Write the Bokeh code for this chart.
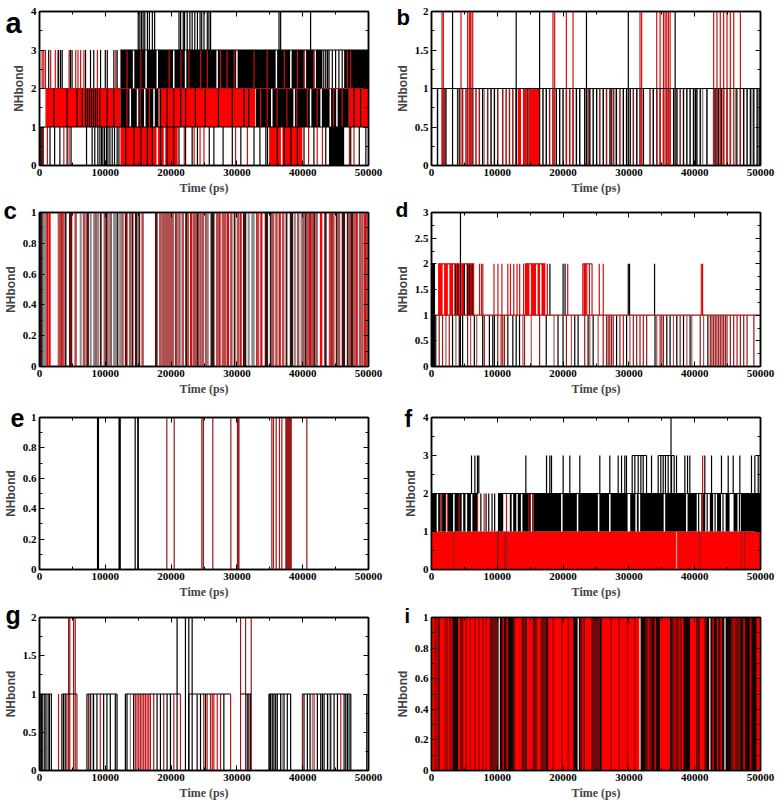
from bokeh.plotting import figure
from bokeh.models import (Range1d, SingleIntervalTicker, LinearAxis, CustomJSTickFormatter,
                          CustomLabelingPolicy, ColumnDataSource)
from bokeh.core.properties import value, field
from bokeh.layouts import column, row
from bokeh.embed import file_html
from bokeh.resources import INLINE

# ---------------- data (time in ps, NHbond levels) ----------------
# Panel a (0..4)
A_RED_BLK_01 = [(12300, 21000), (34900, 39950)]
A_BLK_BLK_01 = [(100, 650), (44000, 46300)]
A_RED_BLK_12 = [(900, 12300), (18200, 32800), (47000, 50000)]
A_BLK_BLK_12 = [(12300, 18100), (32900, 47000)]
A_BLK_BLK_23 = [(12300, 43000), (46300, 50000)]
A_WHITE_01 = [17900, 19000, 36800]
A_WHITE_12 = [13800, 14900, 16000, 17400, 35300, 38700, 41200, 42800, 44200, 45200]
A_WHITE_23 = [14300, 16200, 17900, 20400, 22200, 27000, 30000, 36000, 38200, 40400, 41900]
A_RED_01 = [400, 1200, 3700, 4500, 22000, 23500, 24400, 25000, 29800, 31600, 40900, 42200, 43000, 47100, 47800]
A_BLK_01 = [1600, 2300, 3100, 4200, 4800, 7150, 8000, 8400, 8870, 9180, 9430, 9630, 9890, 10190, 10400,
            10700, 11050, 11400, 11800, 12070, 13100, 14350, 15400, 16400, 17150, 18400, 19400, 20400,
            21200, 22200, 23200, 24000, 25800, 26500, 27900, 29300, 30600, 32600, 33500, 34400, 34650,
            36150, 37200, 38200, 39200, 40200, 41700, 43500, 47300, 48600, 49600]
A_RED_12 = [13300, 15300, 16700, 33600, 34600, 36100, 37600, 39100, 40700, 42200, 44700, 46000]
A_BLK_12 = [2200, 4200, 5700, 6500, 7000, 7300, 7600, 7900, 8200, 8500, 8800, 9200, 10300, 11300,
            18400, 19400, 20400, 21450, 22200, 23700, 25200, 27200, 29300, 31100, 31800, 47800, 48800]
A_RED_23 = [400, 650, 900, 1700, 2400, 2800, 4500, 5500, 5850, 6250, 6750, 8800, 11600,
            13300, 15400, 19700, 21500, 22700, 24500, 25500, 27500, 28500, 29600,
            32600, 34600, 37200, 39200, 40200, 41700, 43800, 46800, 47300]
A_BLK_23 = [1400, 2900, 3200, 3450, 4700, 4950, 7000, 7750, 8250, 9280, 10000, 10300, 11300, 11800,
            43200, 43500, 43750, 44000, 44500, 45000, 45500, 46000]
A_BLK_34 = [15000, 15250, 15500, 15750, 16000, 16400, 16700, 17150, 17500, 21200, 21450, 21850, 22050,
            22450, 22850, 23200, 23600, 24000, 24400, 24650, 25000, 25500, 25750, 26000, 36400, 36650, 41200]
A_HL1 = [(0, 50000)]
A_HL2 = [(0, 50000)]
A_HL3 = [(12300, 50000)]

# Panel b (0..2)
B_RED_BLK_01 = [(13100, 13600), (13900, 14500), (14800, 16500)]
B_RED_01 = [1680, 1930, 4730, 5240, 6000, 6760, 7270, 8540, 10070, 10830, 11340, 11850, 12360, 17950,
            18460, 20500, 21010, 21510, 23800, 25580, 26600, 27100, 27620, 28640, 30670, 31690, 33210,
            34740, 35250, 36260, 37790, 42880, 43380, 43890, 44400, 44910, 45420]
B_BLK_01 = [915, 2190, 3970, 4220, 5490, 6260, 7780, 9050, 9560, 12870, 14650, 16940, 17440, 18970,
            19480, 19990, 22020, 22530, 23290, 24060, 24570, 25100, 26100, 27300, 28100, 29150, 29650,
            30200, 31200, 32200, 33700, 34230, 35750, 36800, 37300, 38300, 38810, 39300, 39820, 40100,
            40330, 40840, 41860, 43100, 43600, 44100, 46400, 46940, 47450, 47960, 48470, 48980, 49490, 49800]
B_GRAY_01 = [4100, 8000, 27900, 41200, 46200, 48700]
B_RED_02 = [1600, 1800, 4480, 5490, 5750, 5900, 6000, 6260, 18460, 18720, 20500, 21510, 31690, 31940,
            34230, 34740, 35250, 35500, 35750, 36000, 36260, 42880, 43380, 43890, 44400, 44910, 45420,
            45930, 46940]
B_BLK_02 = [3200, 12870, 16430, 23550, 29910, 37030]
B_HL1 = [(0, 50000)]
B_HL2 = [(1600, 1800), (5490, 6260), (18460, 18720), (31690, 31940), (34230, 36260), (42880, 45930)]

# Panel c (0..1)
C_BLK_BLK = [(0, 500), (14500, 14900), (25990, 26600), (30920, 31430), (34230, 34740), (38040, 38550),
             (43280, 43640), (45930, 46440)]
C_DRED_BLK = [(4480, 4980), (12970, 13380), (17550, 17950), (47300, 47700)]
C_RED_BLK = [(1400, 1700), (32900, 33050), (42620, 42980)]
C_GRAY_BLK = [(500, 1070), (32190, 32700)]
C_BROWN = [2950, 3610, 5490, 6760, 7170, 8540, 9920, 10830, 12610, 13780, 15670, 18360, 18720, 18970,
           19230, 19480, 19730, 19990, 20240, 21260, 21770, 22530, 23450, 23800, 24460, 24820, 25330,
           27010, 27870, 28230, 29150, 30160, 33210, 35500, 36010, 37030, 39310, 40080, 40740, 41450,
           42110, 44150, 44660, 45520, 47200, 47860, 48720, 49080, 49740, 49900]
C_RED = [1200, 3310, 20750, 23040, 27360, 28640, 30570, 33720, 36510, 41100, 44400, 48210, 49490]
C_BLK = [3970, 7370, 9310, 10220, 11850, 14140, 15160, 22280, 24060, 29650, 35140, 37540, 40430, 41760,
         45160, 46840, 47450]
C_GRAY = [6260, 7780, 8290, 8900, 10580, 11340, 11600, 12260, 21010, 25580, 31790, 38810, 39820]

# Panel d (0..3)
D_RED_BLK_12 = [(1000, 4300), (4500, 6500), (14200, 17300), (23100, 23500)]
D_WHITE_12 = [1800, 2600, 3400, 5200, 15000, 16000, 16600]
D_BLK_12 = [3600, 4000, 5000, 5500, 5800, 6200, 18000, 20000, 20300, 29900, 30100, 33900]
D_BLK_02 = [150, 300, 450]
D_BLK_03 = [4400]
D_RED_12 = [7300, 7600, 7800, 9500, 10100, 10700, 11600, 12000, 12500, 13000, 13400, 14000, 17600,
            20700, 23000, 23300, 23600, 24000, 24400, 25500, 26100, 41000, 41200]
D_RED_01 = [1170, 1680, 2700, 5490, 8030, 10070, 10580, 10830, 11090, 14140, 16430, 20500, 23290,
            26090, 26600, 26850, 27100, 27360, 27620, 28640, 29150, 30670, 31180, 31690, 32190, 32700,
            34740, 35000, 35250, 37790, 40840, 42370, 42620, 42880, 43130, 43380, 43640, 43890, 44150,
            44400, 44660, 44910, 45420, 45930, 46440, 46940, 47450, 47960, 48990]
D_BLK_01 = [400, 650, 3200, 4220, 4730, 6510, 7780, 8800, 9310, 9560, 11600, 12360, 12870, 13380,
            17440, 19230, 19990, 21770, 22280, 23800, 24570, 28130, 29650, 33970, 35760, 36260, 37280,
            38300, 39300, 42000]
D_GRAY_01 = [2190, 3710, 5950, 6870, 13890, 15160, 18620, 21260, 24060, 25330, 30160, 34230, 36770,
             38810, 39560, 41350]
D_HL1 = [(0, 50000)]
D_HL2 = [(1000, 6500), (14200, 17300), (23000, 24400)]

# Panel e (0..1)
E_BLK_BLK = [(12000, 12360)]
E_BLK = [8820, 8960, 14540, 14950, 15000]
E_RED = [19350, 20470, 24670, 26340, 29080, 35310, 35560, 35970, 36470, 36830, 40630]
E_RED_BLK = [(24800, 25000), (30000, 30400), (37350, 38350)]
E_HL1_RED = [(35310, 35560), (36470, 36830)]

# Panel f (0..4)
F_RED_BLK_01 = [(0, 50000)]
F_DARK_01 = [3400, 10000, 10130, 11150, 11400, 40750, 47100, 47550]
F_LIGHT_01 = [37240]
F_BLK_BLK_12 = [(0, 2200), (2500, 5200), (5400, 7000), (10100, 10900), (11900, 29800), (30200, 40300),
                (41000, 41600), (42300, 42800), (43400, 44000), (44700, 45300), (45900, 46500),
                (47000, 50000)]
F_WHITE_12 = [900, 1500, 2300, 3400, 4700, 5300, 6100, 12300, 13000, 13700, 15200, 19800, 22200, 25400,
              27100, 31100, 31600, 35400, 38800]
F_BLK_12 = [7500, 8300, 8700, 9200, 9600, 40600, 41900, 43100, 44300, 46800]
F_RED_12 = [1500, 2400, 4200, 7000, 8000, 11400, 14800, 15500]
F_BLK_23 = [6080, 6590, 6990, 7190, 14340, 17480, 17980, 18240, 20010, 21020, 22540, 25580, 27100,
            28370, 28880, 29380, 29630, 30500, 30900, 31410, 31820, 32170, 32680, 33440, 34450, 34850,
            35210, 35560, 35970, 36480, 36880, 37240, 38500, 38910, 39260, 41540, 42560, 44070, 45090,
            45850, 46860, 48630, 49140, 49650]
F_BLK_24 = [36400]
F_RED_13 = [41200]
F_HL2 = [(0, 7000), (10100, 50000)]
F_HL3 = [(30500, 32680), (34450, 36880), (49650, 50000)]

# Panel g (0..2)
G_RED_01 = [2890, 9240, 14570, 15080, 15580, 16090, 16350, 16600, 20410, 21420, 25480, 25990, 26500,
            27010, 29040, 41730, 45790]
G_DRED_01 = [4160, 5690, 7460, 14820, 15330, 15840, 16850, 17360, 18880, 24970, 26250, 27510, 39950]
G_BLK_01 = [100, 300, 500, 800, 1000, 1300, 1500, 1800, 3400, 3650, 3910, 7210, 7720, 8220, 8730, 9750,
            10250, 10760, 11520, 11780, 13050, 13300, 14310, 17870, 18380, 19390, 19900, 22690, 23960,
            24470, 25230, 28020, 31570, 31820, 32080, 34870, 35000, 35130, 35380, 35630, 35890, 36140,
            36650, 37160, 37660, 38170, 40200, 40710, 41120, 42230, 42740, 42990, 43250, 43760, 44260,
            44770, 45280, 46290, 46550, 46800, 47060, 47310, 49740]
G_GRAY_01 = [1200, 8000, 13810, 36900, 41470, 44000, 47000]
G_RED_02 = [4420, 4600, 5180, 5430, 30560, 31320, 32180]
G_BLK_02 = [20910, 22180, 22690, 23200]
G_HL1 = [(0, 1900), (3400, 5690), (7210, 11780), (13050, 21420), (22690, 29040), (30560, 32180),
         (34870, 38170), (39950, 47310)]
G_HL2_RED = [(4420, 4600), (5180, 5430), (30560, 31320)]
G_HL2_BLK = [(22690, 23200)]

# Panel i (0..1)
I_BLK_BLK = [(0, 50000)]
I_RED_BLK = [(0, 500), (1270, 2030), (2500, 2700), (4050, 4400), (4810, 8860), (12700, 13700),
             (14500, 15400), (16000, 16600), (17730, 21530), (23300, 24300), (25850, 31680),
             (34720, 36240), (38000, 38300), (39300, 40200), (40800, 41500), (49400, 50000)]
I_DRED_BLK = [(500, 1270), (2030, 2500), (2700, 3300), (4400, 4810), (8860, 10130), (12410, 12700),
              (13700, 14430), (15400, 16000), (16600, 17480), (22560, 23300), (24300, 25600),
              (32500, 33500), (36500, 38000), (40200, 40800), (41500, 41810), (45500, 47000)]
I_DARK_IN_RED = [5300, 5900, 6600, 7200, 7800, 8300, 18500, 19800, 20800, 27300, 28500, 29800, 30900]
I_RED_IN_DARK = [800, 2300, 3000, 10900, 11500, 23000, 33000, 34000, 37000, 37700, 42800, 43500, 44000,
                 46000, 47500, 48500]
I_WHITE = [10290, 22300, 31680, 42300, 44600]

# panel letters
LETTERS = ["a", "b", "c", "d", "e", "f", "g", "i"]

# ---------------- styling ----------------
RED = "#ff0000"
RED_LINE = "#d01010"
DRED = "#9a1818"
MAROON = "#6a0c0c"
BROWN = "#b05050"
BLACK = "#000000"
DARK = "#3a1010"
GRAY = "#8a8a8a"
WHITE = "#ffffff"
LW = 1.2

FMT = CustomJSTickFormatter(code="return String(Math.round(tick*1000)/1000);")
NOLABELS = CustomLabelingPolicy(code="for (const i of Array.from(indices)) { indices.unset(i) } return indices;")


def make_fig(w, h, ymax, yint, mt, mb, ml, mr):
    p = figure(width=w, height=h, x_range=Range1d(0, 50000), y_range=Range1d(0, ymax),
               output_backend="svg", toolbar_location=None, min_border_top=mt, min_border_bottom=mb,
               min_border_left=ml, min_border_right=mr)
    p.grid.visible = False
    p.outline_line_color = BLACK
    p.outline_line_width = 1.5
    p.outline_line_alpha = 1.0
    p.background_fill_color = WHITE
    p.xaxis.ticker = SingleIntervalTicker(interval=10000, num_minor_ticks=2)
    p.yaxis.ticker = SingleIntervalTicker(interval=yint, num_minor_ticks=2)
    for ax in (p.xaxis[0], p.yaxis[0]):
        ax.major_tick_in = 5
        ax.major_tick_out = 0
        ax.minor_tick_in = 3
        ax.minor_tick_out = 0
        ax.axis_line_width = 1.5
        ax.major_label_text_font = "Liberation Serif"
        ax.major_label_text_font_style = "bold"
        ax.major_label_text_font_size = "11px"
        ax.major_label_text_color = BLACK
        ax.major_label_standoff = 3
        ax.axis_label_standoff = 2
        ax.formatter = FMT
    p.xaxis.axis_label = "Time (ps)"
    p.xaxis.axis_label_text_font = "Liberation Serif"
    p.xaxis.axis_label_text_font_style = "bold"
    p.xaxis.axis_label_text_font_size = "12px"
    p.yaxis.axis_label = "NHbond"
    p.yaxis.axis_label_text_font = "Liberation Sans"
    p.yaxis.axis_label_text_font_style = "bold"
    p.yaxis.axis_label_text_font_size = "12px"
    top = LinearAxis(ticker=SingleIntervalTicker(interval=10000, num_minor_ticks=2),
                     major_label_text_font_size="1px", major_label_policy=NOLABELS,
                     major_tick_in=5, major_tick_out=0,
                     minor_tick_in=3, minor_tick_out=0, major_label_standoff=0, axis_line_width=1.5)
    right = LinearAxis(ticker=SingleIntervalTicker(interval=yint, num_minor_ticks=2),
                       major_label_text_font_size="1px", major_label_policy=NOLABELS,
                       major_tick_in=5, major_tick_out=0,
                       minor_tick_in=3, minor_tick_out=0, major_label_standoff=0, axis_line_width=1.5)
    p.add_layout(top, "above")
    p.add_layout(right, "right")
    return p


def blocks(p, spans, lo, hi, color):
    if spans:
        p.quad(left=[s[0] for s in spans], right=[s[1] for s in spans], bottom=lo, top=hi,
               fill_color=color, line_color=None)


def spikes(p, times, lo, hi, color, width=LW):
    if times:
        p.segment(x0=times, y0=[lo] * len(times), x1=times, y1=[hi] * len(times),
                  line_color=color, line_width=width)


def hlines(p, spans, y, color, width=LW):
    if spans:
        p.segment(x0=[s[0] for s in spans], y0=[y] * len(spans), x1=[s[1] for s in spans],
                  y1=[y] * len(spans), line_color=color, line_width=width)


W = 392
ML, MR = 39, 24
H1, H2, H3, H4 = 197, 201, 203, 203

# a
pa = make_fig(W, H1, 4, 1, 11, 32, ML, MR)
blocks(pa, A_RED_BLK_01, 0, 1, RED)
blocks(pa, A_BLK_BLK_01, 0, 1, BLACK)
blocks(pa, A_RED_BLK_12, 1, 2, RED)
blocks(pa, A_BLK_BLK_12, 1, 2, BLACK)
blocks(pa, A_BLK_BLK_23, 2, 3, BLACK)
spikes(pa, A_WHITE_01, 0, 1, WHITE, 1.5)
spikes(pa, A_WHITE_12, 1, 2, WHITE, 1.5)
spikes(pa, A_WHITE_23, 2, 3, WHITE, 1.5)
spikes(pa, A_RED_01, 0, 1, RED_LINE)
spikes(pa, A_BLK_01, 0, 1, BLACK)
spikes(pa, A_RED_12, 1, 2, RED_LINE)
spikes(pa, A_BLK_12, 1, 2, BLACK)
spikes(pa, A_RED_23, 2, 3, RED_LINE)
spikes(pa, A_BLK_23, 2, 3, BLACK)
spikes(pa, A_BLK_34, 3, 4, BLACK)
hlines(pa, A_HL1, 1, BLACK)
hlines(pa, A_HL2, 2, DRED)
hlines(pa, A_HL3, 3, BLACK)

# b
pb = make_fig(W, H1, 2, 0.5, 11, 32, ML, MR)
blocks(pb, B_RED_BLK_01, 0, 1, RED)
spikes(pb, B_RED_01, 0, 1, DRED, 1.5)
spikes(pb, B_BLK_01, 0, 1, BLACK, 1.4)
spikes(pb, B_GRAY_01, 0, 1, GRAY, 1.5)
spikes(pb, B_RED_02, 0, 2, RED_LINE)
spikes(pb, B_BLK_02, 0, 2, BLACK)
hlines(pb, B_HL1, 1, BLACK)
hlines(pb, B_HL2, 2, RED_LINE)

# c
pc = make_fig(W, H2, 1, 0.2, 15, 31, ML, MR)
blocks(pc, C_BLK_BLK, 0, 1, DARK)
blocks(pc, C_DRED_BLK, 0, 1, MAROON)
blocks(pc, C_RED_BLK, 0, 1, RED)
blocks(pc, C_GRAY_BLK, 0, 1, GRAY)
spikes(pc, C_BROWN, 0, 1, BROWN, 2.5)
spikes(pc, C_RED, 0, 1, RED_LINE, 2.2)
spikes(pc, C_BLK, 0, 1, DARK, 1.8)
spikes(pc, C_GRAY, 0, 1, GRAY, 2.0)

# d
pd = make_fig(W, H2, 3, 0.5, 15, 31, ML, MR)
blocks(pd, D_RED_BLK_12, 1, 2, RED)
spikes(pd, D_WHITE_12, 1, 2, WHITE, 1.5)
spikes(pd, D_BLK_12, 1, 2, BLACK)
spikes(pd, D_BLK_02, 0, 2, BLACK)
spikes(pd, D_BLK_03, 0, 3, BLACK)
spikes(pd, D_RED_12, 1, 2, RED_LINE)
spikes(pd, D_RED_01, 0, 1, DRED)
spikes(pd, D_BLK_01, 0, 1, BLACK)
spikes(pd, D_GRAY_01, 0, 1, BROWN)
hlines(pd, D_HL1, 1, DRED)
hlines(pd, D_HL2, 2, RED_LINE)

# e
pe = make_fig(W, H3, 1, 0.2, 19, 30, ML, MR)
blocks(pe, E_BLK_BLK, 0, 1, BLACK)
spikes(pe, E_BLK, 0, 1, BLACK)
spikes(pe, E_RED, 0, 1, DRED)
blocks(pe, E_RED_BLK, 0, 1, DRED)
hlines(pe, E_HL1_RED, 1, DRED)

# f
pf = make_fig(W, H3, 4, 1, 19, 30, ML, MR)
blocks(pf, F_RED_BLK_01, 0, 1, RED)
spikes(pf, F_DARK_01, 0, 1, DRED)
spikes(pf, F_LIGHT_01, 0, 1, "#f0a0a0")
blocks(pf, F_BLK_BLK_12, 1, 2, BLACK)
spikes(pf, F_WHITE_12, 1, 2, WHITE, 1.5)
spikes(pf, F_BLK_12, 1, 2, BLACK)
spikes(pf, F_RED_12, 1, 2, RED_LINE)
spikes(pf, F_BLK_23, 2, 3, BLACK)
spikes(pf, F_BLK_24, 2, 4, BLACK)
spikes(pf, F_RED_13, 1, 3, RED_LINE)
hlines(pf, F_HL2, 2, BLACK)
hlines(pf, F_HL3, 3, BLACK)

# g
pg = make_fig(W, H4, 2, 0.5, 16, 34, ML, MR)
spikes(pg, G_RED_01, 0, 1, RED_LINE)
spikes(pg, G_DRED_01, 0, 1, DRED)
spikes(pg, G_BLK_01, 0, 1, BLACK)
spikes(pg, G_GRAY_01, 0, 1, GRAY)
spikes(pg, G_RED_02, 0, 2, DRED)
spikes(pg, G_BLK_02, 0, 2, BLACK)
hlines(pg, G_HL1, 1, BLACK)
hlines(pg, G_HL2_RED, 2, DRED)
hlines(pg, G_HL2_BLK, 2, BLACK)

# i
pi = make_fig(W, H4, 1, 0.2, 16, 34, ML, MR)
blocks(pi, I_BLK_BLK, 0, 1, "#120202")
blocks(pi, I_DRED_BLK, 0, 1, MAROON)
blocks(pi, I_RED_BLK, 0, 1, RED)
spikes(pi, I_DARK_IN_RED, 0, 1, "#a00000", 1.5)
spikes(pi, I_RED_IN_DARK, 0, 1, "#d00000", 1.8)
spikes(pi, I_WHITE, 0, 1, WHITE, 1.2)

# transparent overlay carrying the panel letters (page pixel coordinates)
OV_W, OV_H = 784, 800
ov = figure(width=OV_W, height=OV_H, x_range=Range1d(0, OV_W), y_range=Range1d(OV_H, 0),
            output_backend="svg", toolbar_location=None, x_axis_type=None, y_axis_type=None,
            min_border=0, outline_line_color=None, background_fill_alpha=0, border_fill_alpha=0,
            styles={"position": "absolute", "top": "0px", "left": "0px", "pointer-events": "none"})
ov.grid.visible = False
letter_src = ColumnDataSource(dict(
    text=LETTERS,
    x=[5, 396, 3, 395, 10, 404, 5, 404],
    y=[22, 17, 210, 209, 417, 418, 614, 615],
    size=["29px", "22px", "24px", "21px", "25px", "23px", "25px", "20px"],
))
ov.text(x="x", y="y", text="text", source=letter_src, text_font=value("Liberation Sans"),
        text_font_style="bold", text_font_size=field("size"), text_color=BLACK,
        text_baseline="alphabetic", text_align="left")

layout = column(row(pa, pb), row(pc, pd), row(pe, pf), row(pg, pi), ov)
open("out.html", "w").write(file_html(layout, INLINE))
